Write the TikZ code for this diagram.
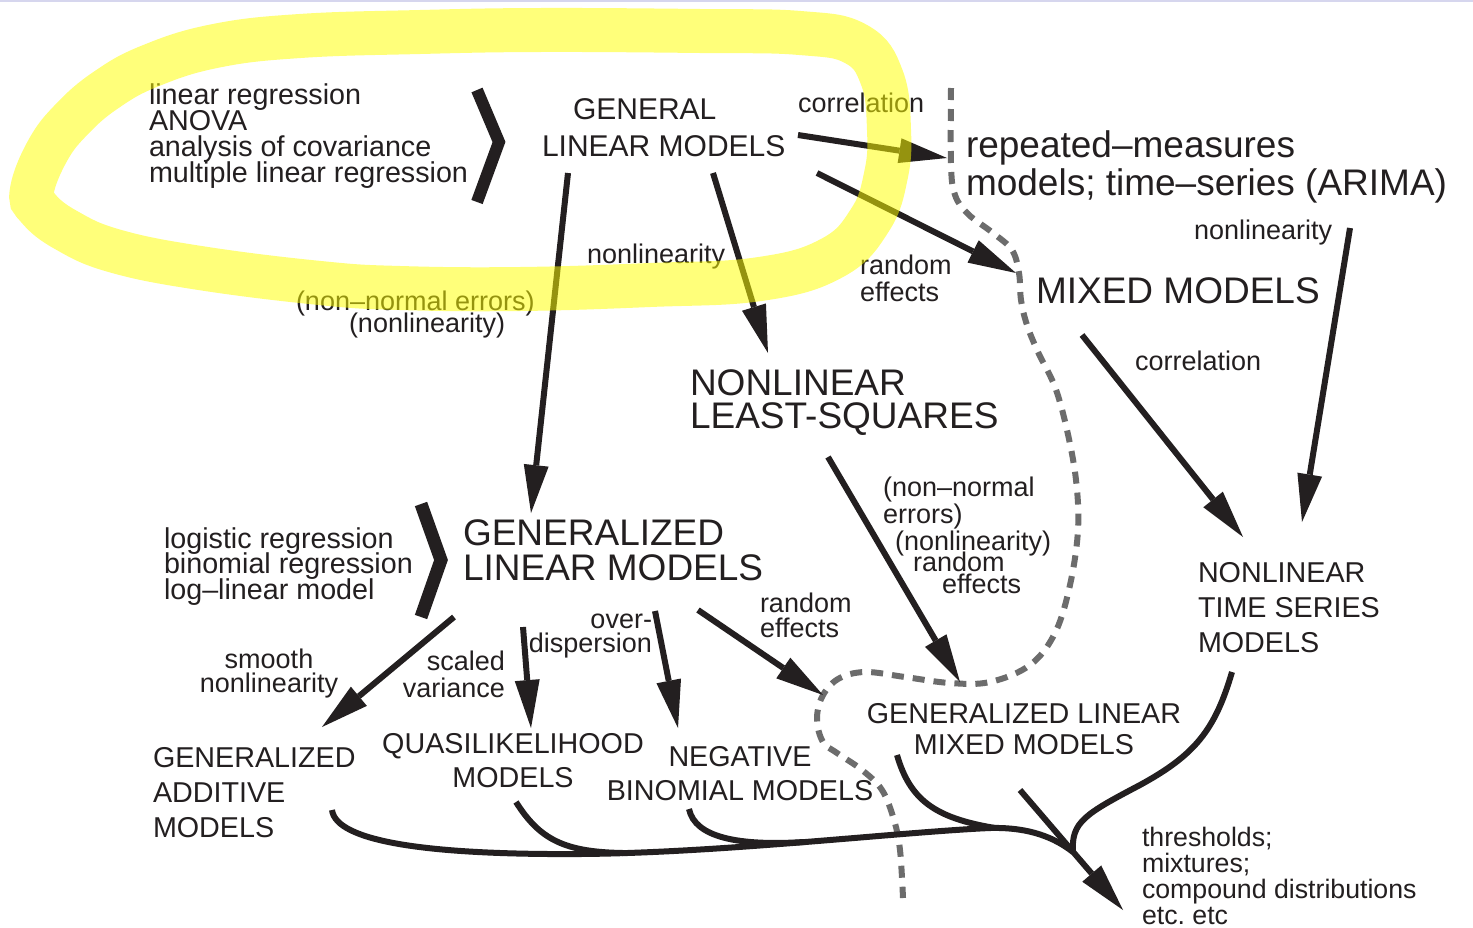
\documentclass[tikz,border=0pt]{standalone}
\usepackage{fontspec}
\setmainfont{Liberation Sans}
\usetikzlibrary{arrows.meta}
\definecolor{ink}{RGB}{35,31,32}
\definecolor{dashgray}{RGB}{108,108,108}
\definecolor{hlyellow}{RGB}{255,255,0}
\definecolor{topline}{RGB}{214,214,238}
\newcommand\myfs[2]{\fontsize{#1}{#2}\selectfont\lineskiplimit=-\maxdimen}
\tikzset{
  txt/.style={inner sep=0pt, outer sep=0pt, text=ink},
  arr/.style={draw=ink, line width=6pt, -{Triangle[length=48pt,width=25pt,line width=0pt]}},
  crv/.style={draw=ink, line width=6pt},
  chev/.style={draw=ink, line width=12pt, line join=miter},
  border/.style={draw=dashgray, line width=6pt, dash pattern=on 12pt off 9pt},
  hilite/.style={draw=hlyellow, draw opacity=0.52, line width=44pt},
}
\begin{document}
\frenchspacing
\begin{tikzpicture}[x=1pt,y=-1pt]
\useasboundingbox (0,0) rectangle (1473,927);
\fill[white] (0,0) rectangle (1473,927);

% ---------- dashed boundary ----------
\draw[border] plot[smooth, tension=0.6] coordinates {
 (951,88) (951,165) (955,195) (968,214) (993,233) (1012,250) (1019,273)
 (1021,300) (1027,325) (1038,352) (1055,387) (1067,430) (1076,480)
 (1078,530) (1070,585) (1055,633) (1030,665) (990,682) (950,683)
 (905,677) (865,672) (838,679) (822,697) (817,720) (823,742) (837,753)
 (862,770) (882,790) (894,820) (900,850) (903,898)};

% ---------- text nodes ----------
\node[txt, font=\myfs{28.7}{26}, align=left, anchor=north west] (lst1) at (149,83.4)
  {linear regression\\ANOVA\\analysis of covariance\\multiple linear regression};
\node[txt, font=\myfs{30}{37}, align=left, anchor=north west] (glm) at (542,98.5)
  {\hspace*{31pt}GENERAL\\LINEAR MODELS};
\node[txt, font=\myfs{27}{27}, anchor=base west] (corrA) at (798,112) {correlation};
\node[txt, font=\myfs{37}{38}, align=left, anchor=north west] (rm) at (966,130.5)
  {repeated–measures\\models; time–series (ARIMA)};
\node[txt, font=\myfs{27}{27}, anchor=base west] (nonlinA) at (587,263) {nonlinearity};
\node[txt, font=\myfs{27}{27}, align=left, anchor=north west] (reA) at (860,254.5)
  {random\\effects};
\node[txt, font=\myfs{27}{27}, anchor=base west] (nneA) at (296,310) {(non–normal errors)};
\node[txt, font=\myfs{27}{27}, anchor=base west] (nlA) at (349,332) {(nonlinearity)};
\node[txt, font=\myfs{37}{38}, anchor=base west] (mixed) at (1036,303) {MIXED MODELS};
\node[txt, font=\myfs{27}{27}, anchor=base west] (nlB) at (1194,239) {nonlinearity};
\node[txt, font=\myfs{27}{27}, anchor=base west] (corrB) at (1135,370) {correlation};
\node[txt, font=\myfs{37}{33.5}, align=left, anchor=north west] (nls) at (690,369.5)
  {NONLINEAR\\LEAST-SQUARES};
\node[txt, font=\myfs{37}{35}, align=left, anchor=north west] (glim) at (463,519.5)
  {GENERALIZED\\LINEAR MODELS};
\node[txt, font=\myfs{28.7}{25.7}, align=left, anchor=north west] (lst2) at (164,527.4)
  {logistic regression\\binomial regression\\log–linear model};
\node[txt, font=\myfs{27}{27}, align=left, anchor=north west] (nne2) at (883,476.8)
  {(non–normal\\errors)};
\node[txt, font=\myfs{27}{27}, anchor=base west] (nl2) at (895,550) {(nonlinearity)};
\node[txt, font=\myfs{27}{27}, anchor=base west] (rnd2) at (913,571) {random};
\node[txt, font=\myfs{27}{27}, anchor=base west] (eff2) at (942,593) {effects};
\node[txt, font=\myfs{27}{25}, align=left, anchor=north west] (reB) at (760,592.7)
  {random\\effects};
\node[txt, font=\myfs{27}{24}, align=center, anchor=north] (smooth) at (269,648.7)
  {smooth\\nonlinearity};
\node[txt, font=\myfs{27}{27}, align=right, anchor=north east] (scaled) at (505,650.7)
  {scaled\\variance};
\node[txt, font=\myfs{27}{24}, align=right, anchor=north east] (overd) at (652,613.7)
  {over-\\dispersion};
\node[txt, font=\myfs{28.7}{35}, align=left, anchor=north west] (gam) at (153,747.4)
  {GENERALIZED\\ADDITIVE\\MODELS};
\node[txt, font=\myfs{28.7}{34}, align=center, anchor=north] (ql) at (513,733.4)
  {QUASILIKELIHOOD\\MODELS};
\node[txt, font=\myfs{28.7}{34}, align=center, anchor=north] (nb) at (740,746.4)
  {NEGATIVE\\BINOMIAL MODELS};
\node[txt, font=\myfs{28.7}{31}, align=center, anchor=north] (glmm) at (1024,703.4)
  {GENERALIZED LINEAR\\MIXED MODELS};
\node[txt, font=\myfs{28.7}{35}, align=left, anchor=north west] (nlts) at (1198,562.4)
  {NONLINEAR\\TIME SERIES\\MODELS};
\node[txt, font=\myfs{26.7}{26}, align=left, anchor=north west] (thr) at (1142,826.9)
  {thresholds;\\mixtures;\\compound distributions\\etc. etc};

% ---------- connector end points ----------
\coordinate (glmR1) at (798,135);   \coordinate (rmL) at (947,158);
\coordinate (glmR2) at (817,173);   \coordinate (mixL) at (1016,273);
\coordinate (glmB1) at (568,173);   \coordinate (glimT) at (531,513);
\coordinate (glmB2) at (713,173);   \coordinate (nlsT) at (768,353);
\coordinate (mixB) at (1082,335);   \coordinate (nltsT1) at (1243,537);
\coordinate (rmB) at (1350,228);    \coordinate (nltsT2) at (1302,522);
\coordinate (nlsB) at (828,457);    \coordinate (glmmT1) at (960,682);
\coordinate (glimR) at (698,610);   \coordinate (glmmT2) at (823,695);
\coordinate (glimB1) at (454,617);  \coordinate (gamT) at (322,727);
\coordinate (glimB2) at (523,627);  \coordinate (qlT) at (531,728);
\coordinate (glimB3) at (655,611);  \coordinate (nbT) at (678,728);
\coordinate (glmmB) at (1020,790);  \coordinate (thrT) at (1123,910);
\coordinate (gamB) at (332,810);    \coordinate (qlB) at (516,802);
\coordinate (nbB) at (689,809);     \coordinate (glmmB2) at (897,755);
\coordinate (nltsB) at (1232,672);  \coordinate (merge) at (1073,852);

% ---------- arrows ----------
\draw[arr] (glmR1) -- (rmL);
\draw[arr] (glmR2) -- (mixL);
\draw[arr] (glmB1) -- (glimT);
\draw[arr] (glmB2) -- (nlsT);
\draw[arr] (mixB) -- (nltsT1);
\draw[arr] (rmB) -- (nltsT2);
\draw[arr] (nlsB) -- (glmmT1);
\draw[arr] (glimR) -- (glmmT2);
\draw[arr] (glimB1) -- (gamT);
\draw[arr] (glimB2) -- (qlT);
\draw[arr] (glimB3) -- (nbT);
\draw[arr] (glmmB) -- (thrT);

% ---------- merging curves ----------
\draw[crv] (gamB) .. controls (336,842) and (430,855) .. (580,854)
  .. controls (720,853) and (900,832) .. (990,828)
  .. controls (1030,827) and (1055,838) .. (merge);
\draw[crv] (qlB) .. controls (540,840) and (565,852) .. (623,853);
\draw[crv] (nbB) .. controls (695,838) and (740,846) .. (804,842);
\draw[crv] (glmmB2) .. controls (910,800) and (935,818) .. (995,828);
\draw[crv] (nltsB) .. controls (1215,730) and (1195,755) .. (1140,785)
  .. controls (1085,814) and (1071,822) .. (merge);

% ---------- chevrons ----------
\draw[chev] (477,90) -- (499,142) -- (477,202);
\draw[chev, line width=13pt] (421,504) -- (441,560) -- (421,617);

% ---------- highlight ----------
\draw[hilite] plot[smooth cycle, tension=0.7] coordinates {
 (32,190) (48,150) (72,119) (106,90) (150,66) (215,46) (300,36) (420,32)
 (540,30) (700,31) (800,33) (856,44) (882,78) (889,130) (886,175) (870,220)
 (832,258) (760,279) (650,285) (520,289) (400,288) (320,283) (200,268)
 (115,251) (66,230) (38,208)};

\fill[topline] (0,0) rectangle (1473,2);
\end{tikzpicture}
\end{document}
